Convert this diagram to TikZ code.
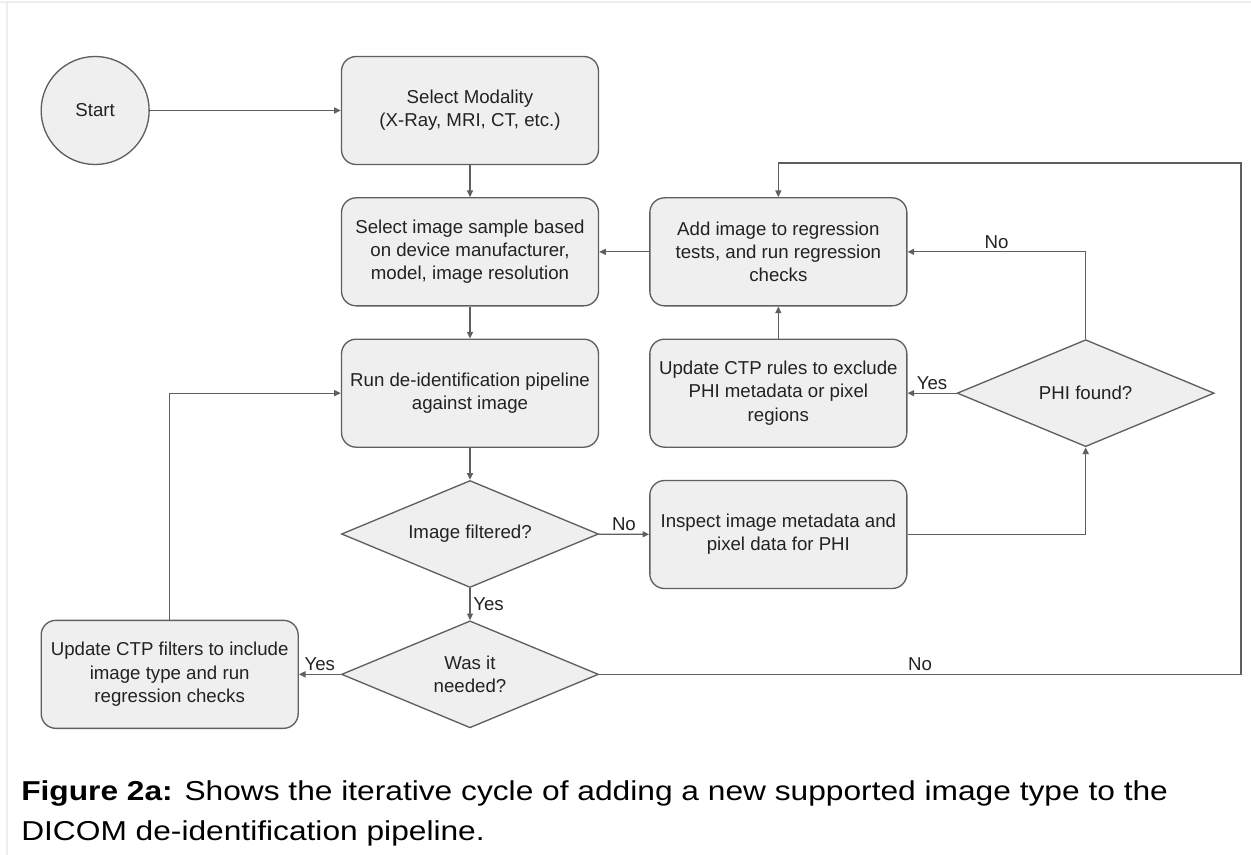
\documentclass[tikz,border=0pt]{standalone}
\usepackage{fontspec}
\setmainfont{Liberation Sans}
\newfontfamily\captionfont[FakeStretch=1.16]{Liberation Sans}
\usetikzlibrary{shapes.geometric, positioning, arrows.meta}
\definecolor{boxfill}{HTML}{EFEFEF}
\definecolor{linegray}{HTML}{5F5F5F}
\definecolor{textgray}{HTML}{222222}
\definecolor{framegray}{HTML}{EEEEEE}

\begin{document}
\begin{tikzpicture}[
		x=0.75pt, y=-0.75pt,
		node distance=24pt and 37.5pt,
		font=\fontsize{14}{17.5}\selectfont, text=textgray,
		box/.style={draw=linegray, fill=boxfill, line width=1pt, rectangle, rounded corners=11pt, minimum width=192.75pt, minimum height=81pt, align=center, inner sep=2pt},
		decision/.style={draw=linegray, fill=boxfill, line width=1pt, diamond, aspect=2.4, minimum width=192.75pt, minimum height=80.25pt, align=center, inner sep=0pt},
		startnode/.style={draw=linegray, fill=boxfill, line width=1pt, circle, minimum size=81pt, inner sep=0pt},
		arrow/.style={-{Triangle[length=5pt, width=4.5pt]}, draw=linegray, line width=1pt},
		lbl/.style={inner sep=2pt}
		]
		
		\useasboundingbox (0,0) rectangle (1251,855);
		\draw[framegray, line width=1.5pt] (0,2.5) -- (1251,2.5);
		\draw[framegray, line width=1.5pt] (7,2.5) -- (7,855);
		
		% Nodes
		\node[box] (modality) at (470,110.5) {Select Modality\\(X-Ray, MRI, CT, etc.)};
		
		\node[startnode, left=143.25pt of modality] (start) {Start};
		
		\node[box, below=of modality] (sample) {Select image sample based\\on device manufacturer,\\model, image resolution};
		
		\node[box, below=of sample] (run) {Run de-identification pipeline\\against image};
		
		\node[decision, below=of run] (filtered) {Image filtered?};
		
		\node[decision, below=of filtered] (needed) {Was it\\needed?};
		
		\node[box, left=31.5pt of needed] (filters) {Update CTP filters to include\\image type and run\\regression checks};
		
		\node[box, right=of sample] (addreg) {Add image to regression\\tests, and run regression\\checks};
		
		\node[box, below=of addreg] (rules) {Update CTP rules to exclude\\PHI metadata or pixel\\regions};
		
		\node[box, below=of rules] (inspect) {Inspect image metadata and\\pixel data for PHI};
		
		\node[decision, right=36.75pt of rules] (phi) {PHI found?};
		
		\coordinate (loop) at (1241,163);
		
		% Arrows
		\draw[arrow] (start) -- (modality);
		\draw[arrow] (modality) -- (sample);
		\draw[arrow] (sample) -- (run);
		\draw[arrow] (run) -- (filtered);
		
		\draw[arrow] (filtered) -- node[lbl, above] {No} (inspect);
		\draw[arrow] (filtered) -- node[lbl, right] {Yes} (needed);
		\draw[arrow] (needed) -- node[lbl, above] {Yes} (filters);
		\draw[arrow] (filters.north) |- (run.west);
		
		\draw[arrow] (needed.east) -- node[lbl, above] {No} (needed.east -| loop) -- (loop) -| (addreg.north);
		
		\draw[arrow] (inspect.east) -| (phi.south);
		\draw[arrow] (phi.west) -- node[lbl, above] {Yes} (rules.east);
		\draw[arrow] (phi.north) |- node[lbl, above, pos=0.75] {No} (addreg.east);
		\draw[arrow] (rules) -- (addreg);
		\draw[arrow] (addreg) -- (sample);
		
		% Caption
		\node[anchor=north west, inner sep=0pt, align=left, text=black, font=\captionfont\fontsize{20.5}{30}\selectfont] (caption) at (21,780) {\textbf{Figure 2a:} Shows the iterative cycle of adding a new supported image type to the\\DICOM de-identification pipeline.};
		
	\end{tikzpicture}
\end{document}
